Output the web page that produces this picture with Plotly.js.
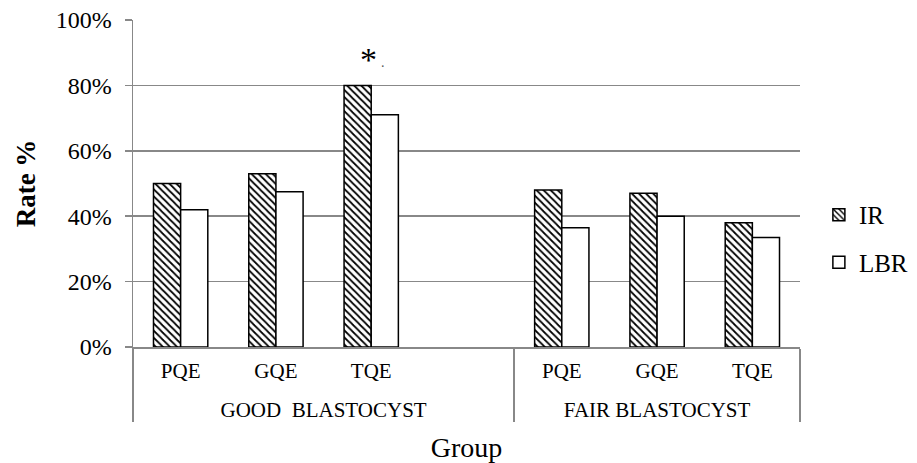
<!DOCTYPE html>
<html>
<head>
<meta charset="utf-8">
<script src="https://cdn.plot.ly/plotly-3.0.1.min.js"></script>
<style>html,body{margin:0;padding:0;background:#fff;}#chart{width:917px;height:463px;}</style>
</head>
<body>
<div id="chart"></div>
<script>
var groups = ["GOOD  BLASTOCYST","GOOD  BLASTOCYST","GOOD  BLASTOCYST","GOOD  BLASTOCYST","FAIR BLASTOCYST","FAIR BLASTOCYST","FAIR BLASTOCYST"];
var subcats = ["PQE","GQE","TQE"," ","PQE","GQE","TQE"];
var irValues = [0.50, 0.53, 0.80, null, 0.48, 0.47, 0.38];
var lbrValues = [0.42, 0.475, 0.71, null, 0.365, 0.40, 0.335];
var yTicks = [0, 0.2, 0.4, 0.6, 0.8, 1.0];
var yTickLabels = ["0%","20%","40%","60%","80%","100%"];

var serif = "Liberation Serif, Times New Roman, serif";

// taller invisible padding around the sub-category labels, to space the two label rows like the reference
var padSpan = "<span style='font-size:37px'>\u00A0</span>";
var subLabels = subcats.map(function (s) { return padSpan + s + padSpan; });

var traces = [
  {
    type: "bar", name: "IR", legendgroup: "a",
    x: [groups, subLabels], y: irValues,
    marker: {
      color: "#ffffff",
      line: {color: "#000000", width: 1.5},
      pattern: {shape: "\\", fgcolor: "#000000", bgcolor: "#ffffff", size: 5, solidity: 0.35}
    }
  },
  {
    type: "bar", name: "LBR", legendgroup: "b",
    x: [groups, subLabels], y: lbrValues,
    marker: {color: "#ffffff", line: {color: "#000000", width: 1.5}}
  }
];

var layout = {
  width: 917, height: 463,
  margin: {l: 133, r: 117, t: 20, b: 116},
  paper_bgcolor: "#ffffff", plot_bgcolor: "#ffffff",
  barmode: "group", bargap: 0.43, bargroupgap: 0,
  font: {family: serif, color: "#000000", size: 20},
  showlegend: true,
  legend: {xref: "container", yref: "container", x: 0.893, y: 0.485, xanchor: "left", yanchor: "middle",
           font: {family: serif, size: 25, color: "#000"}, tracegroupgap: 12, itemwidth: 30},
  xaxis: {
    type: "multicategory",
    showgrid: false, zeroline: false,
    showline: true, linecolor: "#888888", linewidth: 1.5,
    showdividers: true, dividercolor: "#888888", dividerwidth: 1.5,
    ticks: "", ticklabelstandoff: 4,
    tickfont: {family: serif, size: 21, color: "#000"},
    title: {text: "Group", font: {family: serif, size: 28, color: "#000"}, standoff: 16}
  },
  yaxis: {
    range: [0, 1.0], tickvals: yTicks, ticktext: yTickLabels,
    showgrid: true, gridcolor: "#888888", gridwidth: 1.5,
    showline: true, linecolor: "#888888", linewidth: 1.5,
    ticks: "outside", ticklen: 7, tickcolor: "#888888", tickwidth: 1.5,
    ticklabelstandoff: 8,
    zeroline: false,
    tickfont: {family: serif, size: 24, color: "#000"},
    title: {text: "<b>Rate %</b>", font: {family: serif, size: 27, color: "#000"}, standoff: 12}
  },
  annotations: [
    {x: 0.353, y: 0.817, xref: "paper", yref: "y", text: "*", showarrow: false,
     font: {family: serif, size: 34, color: "#000"}, xanchor: "center", yanchor: "bottom"},
    {x: 0.375, y: 0.84, xref: "paper", yref: "y", text: ".", showarrow: false,
     font: {family: serif, size: 14, color: "#555"}, xanchor: "center", yanchor: "bottom"}
  ]
};

Plotly.newPlot("chart", traces, layout, {displayModeBar: false, staticPlot: true});
</script>
</body>
</html>
